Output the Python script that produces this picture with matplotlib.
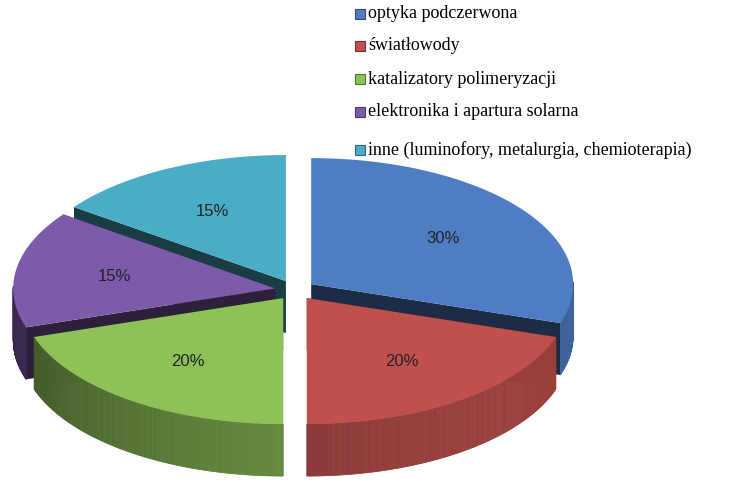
import numpy as np
import matplotlib
matplotlib.use("Agg")
import matplotlib.pyplot as plt
from matplotlib.patches import Polygon, Rectangle
from matplotlib.colors import to_rgb

labels = ["optyka podczerwona", "światłowody", "katalizatory polimeryzacji",
          "elektronika i apartura solarna", "inne (luminofory, metalurgia, chemioterapia)"]
values = [30, 20, 20, 15, 15]
colors = ["#4F7DC4", "#C0504D", "#8EC157", "#7E5BAA", "#4BACC6"]

fig = plt.figure(figsize=(7.48, 4.97), dpi=100)
ax = fig.add_axes([0, 0, 1, 1])
ax.set_xlim(0, 748); ax.set_ylim(497, 0); ax.axis("off")

cx, cy, rx, ry, depth, expl = 295, 290, 262, 126, 52, 20

def dark(c, f):
    r, g, b = to_rgb(c); return (r*f, g*f, b*f)

def pt(a, ox, oy, r=1.0, d=0):
    return (cx + ox + rx*r*np.cos(a), cy + oy - ry*r*np.sin(a) + d)

start = np.pi/2
slices = []
tot = sum(values)
for v, c in zip(values, colors):
    end = start - 2*np.pi*v/tot
    mid = (start+end)/2
    ox, oy = expl*np.cos(mid), -expl*0.5*np.sin(mid)
    slices.append((start, end, mid, ox, oy, c, v))
    start = end

order = sorted(range(len(slices)), key=lambda i: -np.sin(slices[i][2]))
for i in order:
    s, e, m, ox, oy, c, v = slices[i]
    for a in (s, e):
        p0 = pt(0, ox, oy, 0); p1 = pt(a, ox, oy)
        poly = [p0, p1, (p1[0], p1[1]+depth), (p0[0], p0[1]+depth)]
        ax.add_patch(Polygon(poly, closed=True, fc=dark(c, 0.35), ec="none"))
    ts = np.linspace(s, e, 200)
    front = ts[np.sin(ts) < 0.02]
    if len(front) > 1:
        top = [pt(t, ox, oy) for t in front]
        n = len(front)
        for k in range(n-1):
            t = front[k]
            f = 0.4 + 0.4*(0.5+0.5*np.cos(t+0.6))
            a1, a2 = top[k], top[k+1]
            ax.add_patch(Polygon([a1, a2, (a2[0], a2[1]+depth), (a1[0], a1[1]+depth)],
                                 closed=True, fc=dark(c, f), ec=dark(c, f), lw=0.5))
    top = [pt(0, ox, oy, 0)] + [pt(t, ox, oy) for t in ts]
    ax.add_patch(Polygon(top, closed=True, fc=c, ec="none"))
    lx, ly = pt(m, ox, oy, 0.62)
    ax.text(lx, ly, f"{v}%", ha="center", va="center", fontsize=12,
            family="Liberation Sans", color="#222222")

ys = [14, 46, 79, 112, 150]
for lab, c, y in zip(labels, colors, ys):
    ax.add_patch(Rectangle((355, y-5), 10, 10, fc=c, ec=dark(c, 0.6), lw=0.8))
    ax.text(368, y, lab, ha="left", va="center", fontsize=13, family="Liberation Serif")

fig.savefig("out.png", dpi=100)
